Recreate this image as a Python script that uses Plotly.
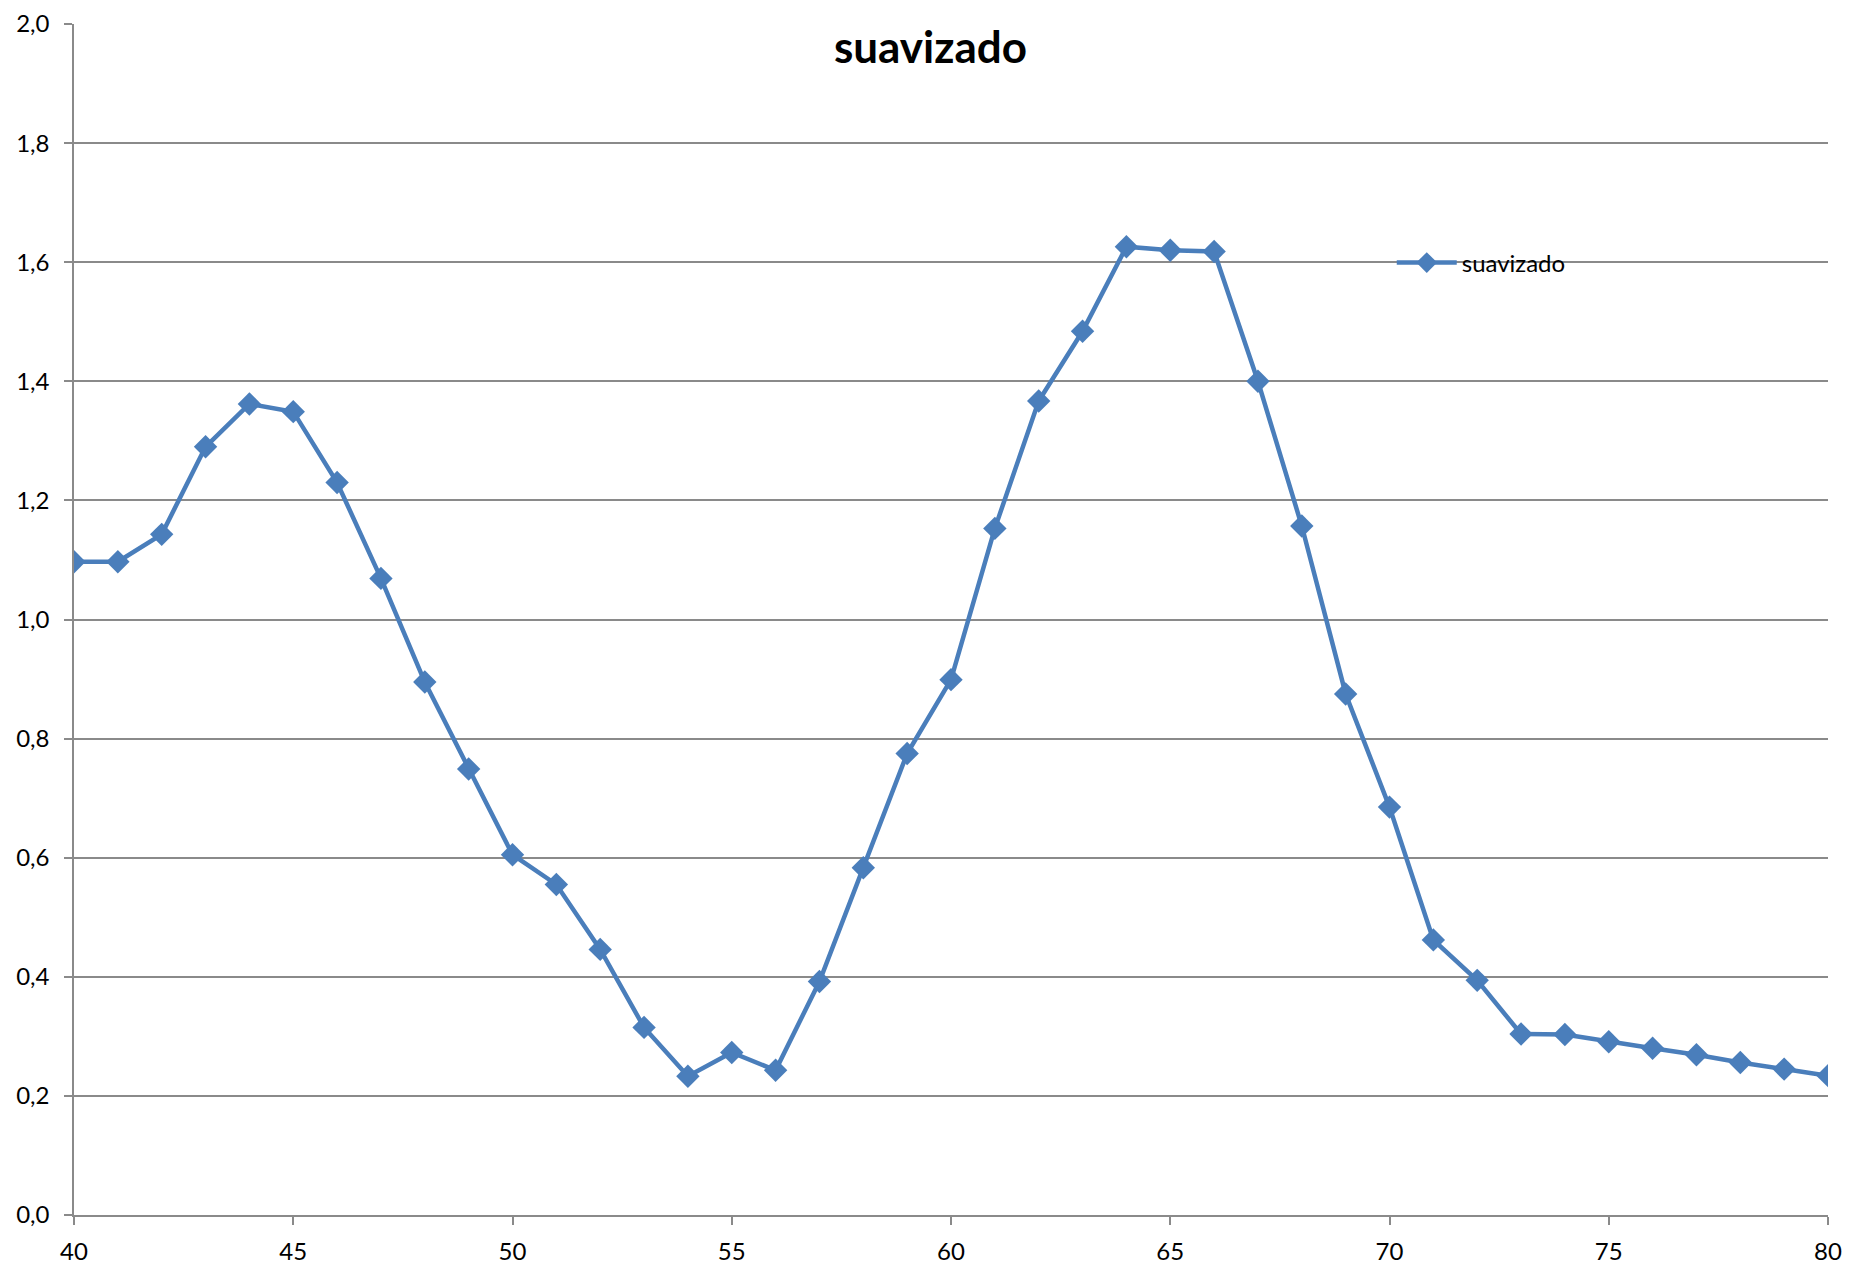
import plotly.graph_objects as go

# Smoothed series ("suavizado") sampled at integer x from 40 to 80
x_values = list(range(40, 81))
suavizado = [
    1.097, 1.097, 1.143, 1.290, 1.362, 1.349, 1.230, 1.069, 0.895, 0.749,
    0.605, 0.555, 0.446, 0.315, 0.233, 0.273, 0.243, 0.392, 0.583, 0.775,
    0.899, 1.153, 1.367, 1.484, 1.626, 1.620, 1.618, 1.400, 1.157, 0.875,
    0.685, 0.462, 0.394, 0.304, 0.303, 0.291, 0.280, 0.269, 0.256, 0.245,
    0.234,
]
x_ticks = [40, 45, 50, 55, 60, 65, 70, 75, 80]
y_ticks = [0.0, 0.2, 0.4, 0.6, 0.8, 1.0, 1.2, 1.4, 1.6, 1.8, 2.0]

BLUE = "#4A7EBB"
GRID = "#8A8A8A"
FONT = "Lato"

fig = go.Figure()
fig.add_trace(go.Scatter(
    x=x_values,
    y=suavizado,
    name="suavizado",
    mode="lines+markers",
    line=dict(color=BLUE, width=4.5),
    marker=dict(symbol="diamond", size=18, color=BLUE),
))

W, H = 1865, 1276
L, R, T, B = 73.5, 36.5, 24, 61

fig.update_layout(
    width=W,
    height=H,
    margin=dict(l=L, r=R, t=T, b=B, pad=0, autoexpand=False),
    paper_bgcolor="white",
    plot_bgcolor="white",
    separators=",.",
    font=dict(family=FONT, color="black", size=24),
    title=dict(
        text="<b>suavizado</b>",
        font=dict(family=FONT, size=44, color="black"),
        x=930.5 / W,
        xref="container",
        xanchor="center",
        y=1 - 48 / H,
        yref="container",
        yanchor="middle",
    ),
    showlegend=True,
    legend=dict(
        x=(1392 - L) / (W - L - R),
        y=(1215 - 263) / (H - T - B),
        xanchor="left",
        yanchor="middle",
        bgcolor="rgba(0,0,0,0)",
        font=dict(family=FONT, size=24, color="black"),
        itemwidth=60,
    ),
    xaxis=dict(
        range=[40, 80],
        tickvals=x_ticks,
        ticks="outside",
        ticklen=8,
        tickcolor=GRID,
        tickwidth=1.5,
        showgrid=False,
        zeroline=False,
        showline=True,
        linecolor=GRID,
        linewidth=1.5,
        ticklabelstandoff=6,
        automargin=False,
        tickfont=dict(family=FONT, size=24),
    ),
    yaxis=dict(
        range=[0, 2.0],
        tickvals=y_ticks,
        tickformat=".1f",
        ticks="outside",
        ticklen=8,
        tickcolor=GRID,
        tickwidth=1.5,
        showgrid=True,
        gridcolor=GRID,
        gridwidth=1.5,
        zeroline=False,
        showline=True,
        linecolor=GRID,
        linewidth=1.5,
        ticklabelstandoff=10,
        automargin=False,
        tickfont=dict(family=FONT, size=24),
    ),
)

fig.write_html("out.html")
